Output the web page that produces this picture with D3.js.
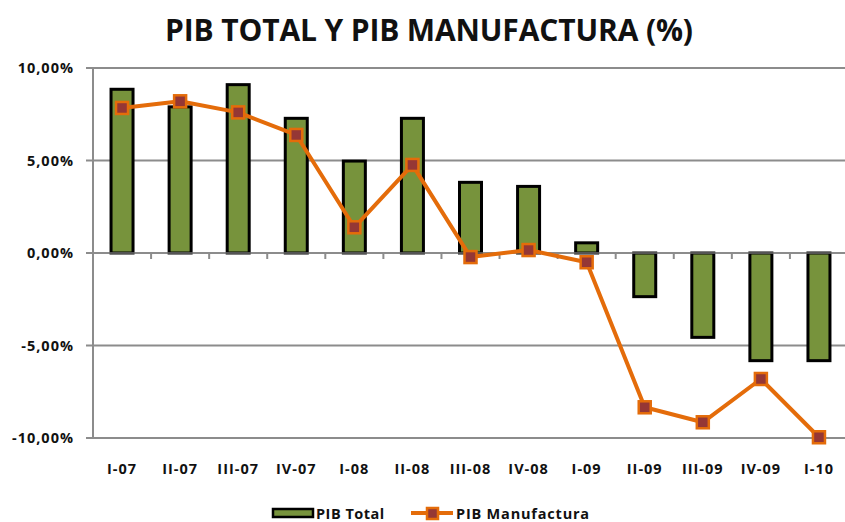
<!DOCTYPE html>
<html><head><meta charset="utf-8">
<script src="https://cdn.jsdelivr.net/npm/d3@7/dist/d3.min.js"></script>
<style>body{margin:0;background:#fff;} svg{display:block;font-family:"Open Sans",sans-serif;}</style>
</head><body>
<svg id="c" width="845" height="522"></svg>
<script>
const categories = ["I-07","II-07","III-07","IV-07","I-08","II-08","III-08","IV-08","I-09","II-09","III-09","IV-09","I-10"];
const pibTotal = [8.85, 7.9, 9.1, 7.28, 4.97, 7.28, 3.82, 3.6, 0.55, -2.36, -4.56, -5.82, -5.82];
const pibManufactura = [7.84, 8.2, 7.6, 6.38, 1.39, 4.76, -0.22, 0.16, -0.5, -8.34, -9.15, -6.81, -9.96];
const yTicks = [10, 5, 0, -5, -10];
const yTickLabels = ["10,00%","5,00%","0,00%","-5,00%","-10,00%"];
const title = "PIB TOTAL Y PIB MANUFACTURA (%)";
const seriesNames = ["PIB Total","PIB Manufactura"];

const svg = d3.select("#c");
const x = d3.scaleBand().domain(categories).range([93, 848]).paddingInner(0).paddingOuter(0);
const y = d3.scaleLinear().domain([-10, 10]).range([438, 68]);

// title
svg.append("text").attr("x", 429).attr("y", 41).attr("text-anchor","middle")
  .attr("font-size", 30).attr("font-weight", 700).attr("fill","#111")
  .attr("textLength", 528).attr("lengthAdjust","spacing").text(title);

// gridlines
const grid = svg.append("g");
grid.selectAll("line").data(yTicks).join("line")
  .attr("x1", 86).attr("x2", 845).attr("y1", d=>y(d)).attr("y2", d=>y(d))
  .attr("stroke", "#8c8c8c").attr("stroke-width", 2);

// y axis line
svg.append("line").attr("x1",93).attr("x2",93).attr("y1",y(10)).attr("y2",y(-10)+1)
  .attr("stroke","#8c8c8c").attr("stroke-width",2);

// y labels
svg.append("g").selectAll("text").data(yTicks).join("text")
  .attr("x", 74).attr("y", d=>y(d)+5).attr("text-anchor","end")
  .attr("font-size", 14.5).attr("font-weight", 700).attr("fill","#111")
  .attr("letter-spacing", 1)
  .text((d,i)=>yTickLabels[i]);

// category ticks on zero line
svg.append("g").selectAll("line").data(categories.slice(1)).join("line")
  .attr("x1", d=>x(d)).attr("x2", d=>x(d)).attr("y1", y(0)).attr("y2", y(0)+6)
  .attr("stroke","#8c8c8c").attr("stroke-width",2);

// bars
const bw = 22;
svg.append("g").selectAll("rect").data(pibTotal).join("rect")
  .attr("x", (d,i)=>x(categories[i]) + x.bandwidth()/2 - bw/2)
  .attr("y", d=>Math.min(y(d), y(0)))
  .attr("width", bw)
  .attr("height", d=>Math.abs(y(d)-y(0)))
  .attr("fill","#77933c").attr("stroke","#000").attr("stroke-width",3);

svg.append("line").attr("x1",86).attr("x2",845).attr("y1",y(0)).attr("y2",y(0))
  .attr("stroke","#8c8c8c").attr("stroke-width",2).attr("opacity",0.6);

// line
const line = d3.line().x((d,i)=>x(categories[i])+x.bandwidth()/2).y(d=>y(d));
svg.append("path").datum(pibManufactura).attr("d", line)
  .attr("fill","none").attr("stroke","#e46c0a").attr("stroke-width",4).attr("stroke-linejoin","round");
const ms = 12;
svg.append("g").selectAll("rect").data(pibManufactura).join("rect")
  .attr("x",(d,i)=>x(categories[i])+x.bandwidth()/2-ms/2)
  .attr("y",d=>y(d)-ms/2).attr("width",ms).attr("height",ms)
  .attr("fill","#953735").attr("stroke","#e46c0a").attr("stroke-width",2.5);

// x labels
svg.append("g").selectAll("text").data(categories).join("text")
  .attr("x", d=>x(d)+x.bandwidth()/2).attr("y", 474).attr("text-anchor","middle")
  .attr("font-size", 14.5).attr("font-weight", 700).attr("fill","#111").attr("letter-spacing",1)
  .text(d=>d);

// legend
const lg = svg.append("g");
lg.append("rect").attr("x",273).attr("y",509).attr("width",40).attr("height",8)
  .attr("fill","#77933c").attr("stroke","#000").attr("stroke-width",2.5);
lg.append("text").attr("x",316).attr("y",519).attr("font-size",14.5).attr("font-weight",700)
  .attr("fill","#111").attr("letter-spacing",0.5).text(seriesNames[0]);
lg.append("line").attr("x1",411).attr("x2",453).attr("y1",513).attr("y2",513)
  .attr("stroke","#e46c0a").attr("stroke-width",4);
lg.append("rect").attr("x",427).attr("y",508).attr("width",11).attr("height",11)
  .attr("fill","#953735").attr("stroke","#e46c0a").attr("stroke-width",2.5);
lg.append("text").attr("x",456).attr("y",519).attr("font-size",14.5).attr("font-weight",700)
  .attr("fill","#111").attr("letter-spacing",0.8).text(seriesNames[1]);
</script>
</body></html>
